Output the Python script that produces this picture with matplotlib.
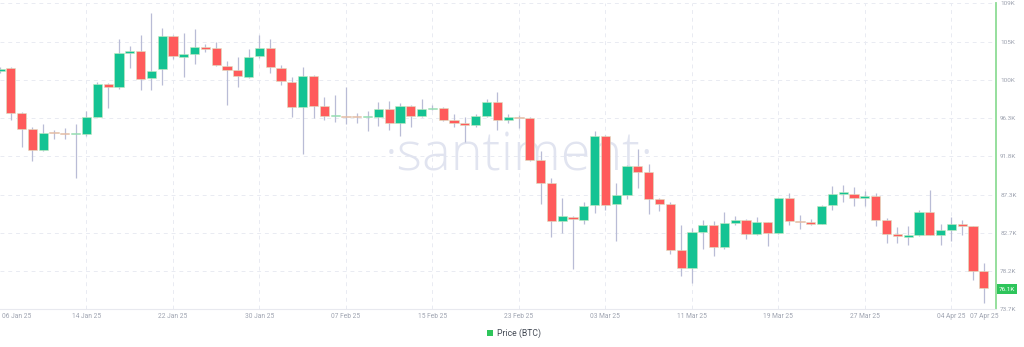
import numpy as np
import pandas as pd
import matplotlib
matplotlib.use("Agg")
import matplotlib.pyplot as plt
import matplotlib.dates as mdates
from matplotlib.patches import Patch
from matplotlib.transforms import ScaledTranslation

plt.rcParams['font.family'] = ['Roboto', 'DejaVu Sans']

# daily BTC candles, 06 Jan 2025 .. 07 Apr 2025 (values in thousands USD)
dates = pd.date_range("2025-01-06", "2025-04-07", freq="D")

opens = [101.9, 102.2, 96.9, 95.0, 92.5, 94.65, 94.5, 94.4, 94.45, 96.5, 100.4, 99.95, 104.05, 104.3, 101.1, 102.1,
         106.0, 103.6, 103.9, 104.7, 104.6, 102.5, 102.0, 101.2, 103.7, 104.6, 102.3, 100.55, 97.6, 101.35, 97.8,
         96.55, 96.62, 96.5, 96.4, 96.45, 97.4, 95.75, 97.8, 96.6, 97.45, 97.5, 96.05, 95.75, 95.55, 96.6,
         98.25, 96.15, 96.5, 96.3, 91.4, 88.6, 84.15, 84.6, 84.3, 86.05, 94.2, 86.1, 87.2, 90.6, 89.95, 86.7,
         86.15, 80.7, 78.6, 82.9, 83.65, 81.1, 83.95, 84.3, 82.6, 84.0, 82.75, 86.85, 84.2, 84.05, 83.85,
         86.0, 87.4, 87.4, 86.85, 87.15, 84.3, 82.6, 82.3, 82.5, 85.2, 82.5, 83.1, 83.8, 83.5, 78.2]
closes = [102.15, 96.9, 95.0, 92.5, 94.6, 94.5, 94.4, 94.5, 96.45, 100.4, 100.0, 104.0, 104.25, 100.9, 101.95, 106.0,
          103.7, 103.95, 104.7, 104.55, 102.6, 102.05, 101.25, 103.6, 104.6, 102.35, 100.65, 97.6, 101.3, 97.8, 96.6,
          96.62, 96.5, 96.4, 96.5, 97.4, 95.75, 97.8, 96.6, 97.4, 97.55, 96.15, 95.75, 95.5, 96.6, 98.25,
          96.15, 96.5, 96.3, 91.4, 88.65, 84.1, 84.7, 84.35, 85.9, 94.2, 86.0, 87.2, 90.6, 89.95, 86.75, 86.15,
          80.7, 78.6, 82.8, 83.7, 81.1, 83.95, 84.3, 82.6, 84.05, 82.75, 86.85, 84.2, 84.05, 83.85, 85.9,
          87.4, 87.45, 86.85, 87.15, 84.3, 82.6, 82.35, 82.55, 85.2, 82.5, 83.1, 83.8, 83.5, 78.2, 76.2]
highs = [102.4, 102.4, 97.1, 95.25, 95.65, 94.86, 95.1, 95.65, 97.2, 100.57, 100.5, 105.7, 104.8, 106.12, 108.8, 107.03,
         106.2, 106.36, 106.83, 105.1, 105.3, 103.1, 103.5, 104.5, 106.1, 105.7, 102.6, 101.24, 102.34, 101.4, 98.8,
         99.07, 100.05, 96.9, 97.2, 98.2, 98.4, 98.1, 97.9, 98.6, 97.9, 97.6, 96.83, 96.5, 96.8, 98.6,
         99.35, 96.8, 96.7, 96.4, 92.4, 89.2, 86.87, 84.78, 86.4, 94.74, 94.36, 88.7, 90.8, 92.66, 90.9, 86.9,
         86.4, 83.72, 83.32, 84.23, 84.2, 85.17, 84.7, 84.4, 84.6, 84.0, 86.9, 87.46, 84.8, 84.4, 86.0,
         88.3, 88.44, 88.2, 87.7, 87.46, 84.5, 83.4, 83.6, 85.4, 87.8, 83.84, 84.62, 84.23, 83.6, 79.2]
lows = [101.7, 96.1, 92.9, 91.28, 92.4, 93.84, 93.8, 89.2, 94.2, 96.4, 97.5, 99.8, 102.2, 99.6, 99.66, 100.18,
        103.3, 101.16, 102.7, 104.1, 102.5, 97.85, 99.95, 101.1, 103.4, 101.6, 100.25, 96.5, 92.07, 96.3, 96.1,
        95.8, 95.65, 95.7, 94.8, 95.4, 94.86, 94.15, 95.3, 96.5, 97.3, 96.0, 95.26, 93.45, 95.3, 96.4,
        94.86, 95.7, 95.2, 91.3, 86.2, 82.26, 82.73, 78.48, 83.8, 85.1, 85.4, 81.75, 86.8, 88.0, 85.0, 85.3,
        80.3, 77.62, 76.83, 80.85, 80.0, 80.85, 83.7, 82.0, 82.5, 81.16, 82.65, 83.68, 83.2, 83.7, 83.75,
        85.5, 86.4, 85.9, 85.9, 83.6, 81.6, 81.6, 81.3, 82.4, 82.46, 81.28, 81.75, 82.5, 77.15, 74.47]

last_price = 76.1
ytick_labels = ["73.7K", "78.2K", "82.7K", "87.3K", "91.8K", "96.3K", "100K", "105K", "109K"]
xtick_dates = ["2025-01-06", "2025-01-14", "2025-01-22", "2025-01-30", "2025-02-07", "2025-02-15", "2025-02-23",
               "2025-03-03", "2025-03-11", "2025-03-19", "2025-03-27", "2025-04-04", "2025-04-07"]

GREEN = "#14c393"
RED = "#ff5b5b"
WICK = "#b9bcd6"
LABEL = "#9ea3b0"

fig = plt.figure(figsize=(10.24, 3.47), dpi=100)
ax = fig.add_axes([0.0, 0.1086, 0.9727, 0.8819])

x = mdates.date2num(dates)
o = np.array(opens)
c = np.array(closes)
up = c >= o
bottom = np.minimum(o, c)
height = np.maximum(np.abs(c - o), 0.12)

ax.vlines(x, lows, highs, color=WICK, linewidth=0.9, zorder=2)
ax.bar(x[up], height[up], bottom=bottom[up], width=0.85, color=GREEN,
       edgecolor="#c9e8c0", linewidth=0.4, zorder=3)
ax.bar(x[~up], height[~up], bottom=bottom[~up], width=0.85, color=RED,
       edgecolor="#d9e4c4", linewidth=0.4, zorder=3)

ax.set_xlim(x[0], x[-1] + 1.13)
ax.set_ylim(73.7, 109.9)

# grid
yt = np.linspace(73.7, 109.9, 9)
for v in yt:
    ax.axhline(v, color="#e9ebf2", linewidth=0.7, linestyle=(0, (4, 4)), zorder=0)
xt = mdates.date2num(pd.to_datetime(xtick_dates))
for v in xt[1:-1]:
    ax.axvline(v, color="#e9ebf2", linewidth=0.7, linestyle=(0, (4, 4)), zorder=0)

# axes styling
for s in ["top", "left"]:
    ax.spines[s].set_visible(False)
ax.spines["bottom"].set_color("#e8e9ef")
ax.spines["bottom"].set_linewidth(0.8)
ax.spines["right"].set_color("#8ddc95")
ax.spines["right"].set_linewidth(1.3)

ax.yaxis.tick_right()
ax.set_yticks(yt)
ax.set_yticklabels(ytick_labels)
ax.tick_params(axis="y", length=0, pad=3, labelsize=4.6, labelcolor=LABEL)

ax.set_xticks(xt)
ax.set_xticklabels([pd.Timestamp(d).strftime("%d %b %y") for d in xtick_dates])
ax.tick_params(axis="x", length=0, pad=3, labelsize=4.8, labelcolor=LABEL)
first = ax.get_xticklabels()[0]
first.set_horizontalalignment("left")
first.set_transform(first.get_transform() + ScaledTranslation(2 / 100, 0, fig.dpi_scale_trans))

# watermark
ax.text(0.521, 0.5, "\u00b7santiment\u00b7", transform=ax.transAxes, ha="center", va="center",
        fontsize=39, color="#e1e4f0", fontweight="light", family=["Open Sans", "DejaVu Sans"], zorder=1)

# last price tag
ax.annotate(f"{last_price}K", xy=(1.0, last_price), xycoords=("axes fraction", "data"),
            xytext=(2, 0), textcoords="offset points", ha="left", va="center",
            fontsize=4.6, color="white",
            bbox=dict(boxstyle="square,pad=0.35", facecolor="#2ec55b", edgecolor="none"),
            annotation_clip=False)

fig.legend(handles=[Patch(facecolor="#2ec55b", edgecolor="none")], labels=["Price (BTC)"],
           loc="center", bbox_to_anchor=(0.502, 0.04), frameon=False, fontsize=6.2,
           handlelength=0.65, handleheight=0.65, handletextpad=0.5, labelcolor="#444a55")

fig.savefig("out.png", dpi=100, facecolor="white")
